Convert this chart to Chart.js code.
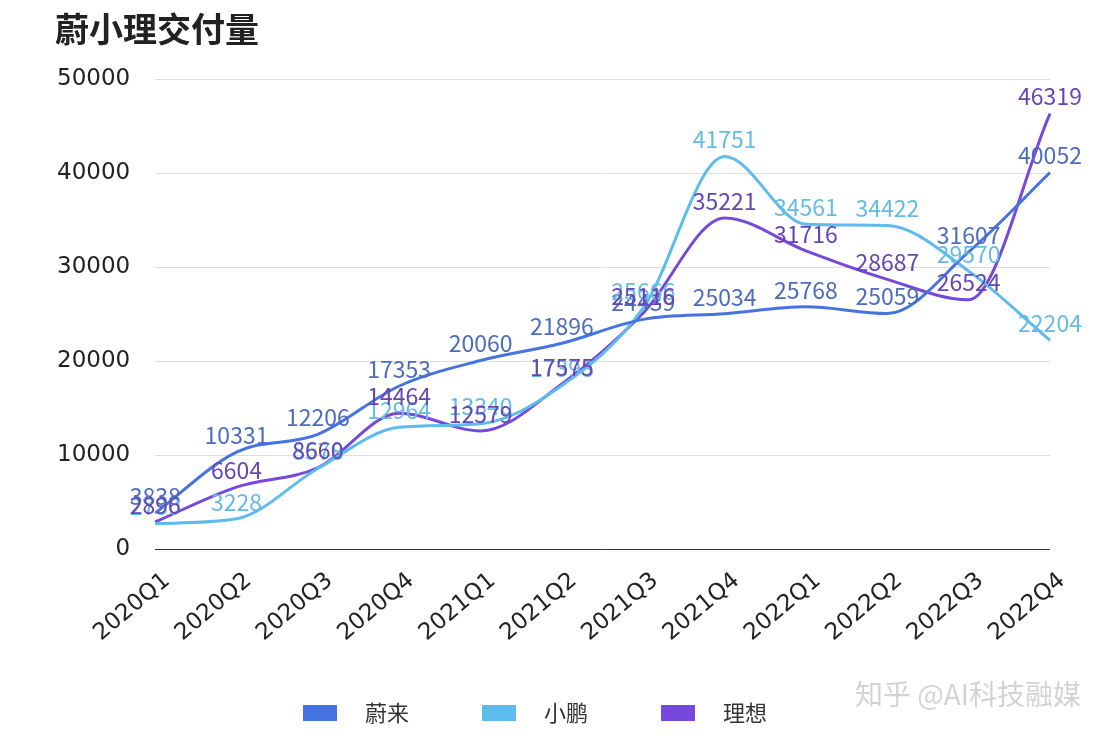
<!DOCTYPE html>
<html>
<head>
<meta charset="utf-8">
<script src="https://cdn.jsdelivr.net/npm/chart.js@4.4.0/dist/chart.umd.min.js"></script>
<style>
  html, body { margin: 0; padding: 0; background: #fff; }
  #wrap { width: 1108px; height: 742px; position: relative; }
</style>
</head>
<body>
<div id="wrap"><canvas id="myChart"></canvas></div>
<script>
// data
var quarters = ["2020Q1", "2020Q2", "2020Q3", "2020Q4", "2021Q1", "2021Q2",
  "2021Q3", "2021Q4", "2022Q1", "2022Q2", "2022Q3", "2022Q4"];
var nio = [3838, 10331, 12206, 17353, 20060, 21896, 24439, 25034, 25768, 25059, 31607, 40052];
var xpeng = [2730, 3228, 8578, 12964, 13340, 17398, 25666, 41751, 34561, 34422, 29570, 22204];
var li = [2896, 6604, 8660, 14464, 12579, 17575, 25116, 35221, 31716, 28687, 26524, 46319];
var yTicks = [0, 10000, 20000, 30000, 40000, 50000];

var cjk = "'Noto Sans CJK SC', 'Noto Sans', sans-serif";
var num = "'DejaVu Sans', sans-serif";

// value labels above each point
var valueLabels = {
  id: 'valueLabels',
  afterDatasetsDraw: function(chart) {
    var ctx = chart.ctx;
    ctx.save();
    ctx.font = "23px " + cjk;
    ctx.textAlign = "center";
    ctx.textBaseline = "middle";
    chart.data.datasets.forEach(function(ds, i) {
      var meta = chart.getDatasetMeta(i);
      ctx.fillStyle = ds.labelColor;
      meta.data.forEach(function(pt, j) {
        ctx.fillText(ds.data[j], pt.x, pt.y - 17);
      });
    });
    ctx.restore();
  }
};

// title, legend and watermark drawn by hand
var extras = {
  id: 'extras',
  afterDraw: function(chart) {
    var ctx = chart.ctx;
    ctx.save();
    ctx.font = "bold 34px " + cjk;
    ctx.textBaseline = "middle";
    ctx.textAlign = "left";
    ctx.fillStyle = "#222";
    ctx.fillText("蔚小理交付量", 55, 29);

    var x = 303, y = 713;
    ctx.font = "22px " + cjk;
    chart.data.datasets.forEach(function(ds) {
      ctx.fillStyle = ds.borderColor;
      ctx.fillRect(x, y - 8, 34, 16);
      ctx.fillStyle = "#333";
      ctx.fillText(ds.label, x + 62, y);
      x += 179;
    });

    ctx.font = "28px " + cjk;
    ctx.textAlign = "right";
    ctx.fillStyle = "rgba(130,130,130,0.35)";
    ctx.fillText("知乎 @AI科技融媒", 1081, 694);
    ctx.restore();
  }
};

var ctx = document.getElementById("myChart");
var chart = new Chart(ctx, {
  type: 'line',
  data: {
    labels: quarters,
    datasets: [
      { label: "蔚来", data: nio, borderColor: "#4574e0", labelColor: "#4d6cbf" },
      { label: "小鹏", data: xpeng, borderColor: "#5dbcec", labelColor: "#66bbe4" },
      { label: "理想", data: li, borderColor: "#7649da", labelColor: "#6446b4" }
    ]
  },
  options: {
    responsive: true,
    maintainAspectRatio: false,
    animation: false,
    elements: {
      line: { borderWidth: 3, cubicInterpolationMode: 'monotone', fill: false },
      point: { radius: 0 }
    },
    layout: { padding: { left: 32, right: 58, top: 79, bottom: 85 } },
    scales: {
      x: {
        offset: false,
        grid: { display: false },
        border: { display: false },
        ticks: { color: "#222", font: { size: 23, family: num }, minRotation: 40, maxRotation: 40, padding: 10, labelOffset: 12 }
      },
      y: {
        min: 0,
        max: 50000,
        afterBuildTicks: function(axis) {
          axis.ticks = yTicks.map(function(v) { return { value: v }; });
        },
        grid: {
          color: function(c) { return c.tick && c.tick.value === 0 ? "#333" : "#dedede"; },
          drawTicks: false,
          lineWidth: 1
        },
        border: { display: false },
        ticks: {
          color: "#222",
          font: { size: 23, family: num },
          padding: 25,
          callback: function(v) { return String(v); }
        }
      }
    },
    plugins: {
      title: { display: false },
      legend: { display: false },
      tooltip: { enabled: false }
    }
  },
  plugins: [valueLabels, extras]
});
</script>
</body>
</html>
